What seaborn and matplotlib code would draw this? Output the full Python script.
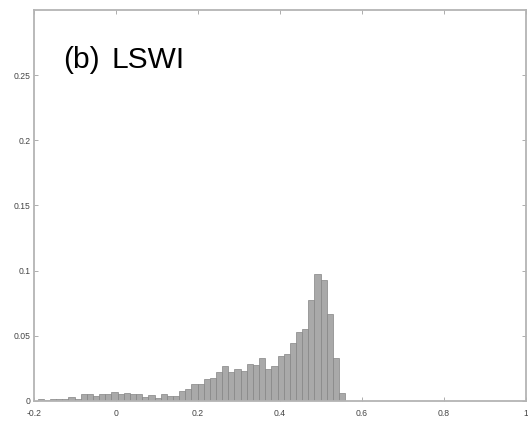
import numpy as np
import pandas as pd
import matplotlib
matplotlib.use("Agg")
import matplotlib.pyplot as plt
import seaborn as sns

# Histogram of LSWI: 50 equal bins between data min and max
bin_start = -0.191
bin_end = 0.559
n_bins = 50
frequencies = [
    0.0013, 0.0008, 0.0013, 0.0013, 0.0013, 0.0030, 0.0013, 0.0053, 0.0053, 0.0038,
    0.0053, 0.0053, 0.0071, 0.0053, 0.0063, 0.0053, 0.0053, 0.0030, 0.0043, 0.0025,
    0.0053, 0.0038, 0.0038, 0.0078, 0.0094, 0.0134, 0.0128, 0.0172, 0.0178, 0.0219,
    0.0268, 0.0225, 0.0249, 0.0232, 0.0281, 0.0273, 0.0330, 0.0248, 0.0266, 0.0345,
    0.0357, 0.0444, 0.0531, 0.0549, 0.0773, 0.0978, 0.0932, 0.0670, 0.0329, 0.0064,
]
x_ticks = [-0.2, 0, 0.2, 0.4, 0.6, 0.8, 1]
x_tick_labels = ["-0.2", "0", "0.2", "0.4", "0.6", "0.8", "1"]
y_ticks = [0, 0.05, 0.1, 0.15, 0.2, 0.25]
y_tick_labels = ["0", "0.05", "0.1", "0.15", "0.2", "0.25"]
title_prefix = "(b)"
title_name = "LSWI"

edges = np.linspace(bin_start, bin_end, n_bins + 1)
centers = (edges[:-1] + edges[1:]) / 2
df = pd.DataFrame({"lswi": centers, "freq": frequencies})

sns.set_style("white")
plt.rcParams['font.family'] = ['Liberation Sans', 'DejaVu Sans']

fig = plt.figure(figsize=(5.28, 4.22), dpi=100)
ax = fig.add_axes([34 / 528, 21 / 422, (526 - 34) / 528, (401 - 10) / 422])

sns.histplot(data=df, x="lswi", weights="freq", bins=n_bins,
             binrange=(bin_start, bin_end), stat="count",
             color="#a9a9a9", edgecolor="#858585", linewidth=0.5, alpha=1.0, ax=ax)

ax.set_xlim(-0.2, 1.0)
ax.set_ylim(0, 0.3)
ax.set_xticks(x_ticks)
ax.set_xticklabels(x_tick_labels)
ax.set_yticks(y_ticks)
ax.set_yticklabels(y_tick_labels)
ax.set_xlabel("")
ax.set_ylabel("")

ax.tick_params(direction="in", length=3, width=0.6, color="#a0a0a0",
               labelsize=6.2, labelcolor="#444444", top=True, right=True,
               bottom=True, left=True)
ax.tick_params(axis="x", pad=6)
ax.tick_params(axis="y", pad=2.5)
for s in ax.spines.values():
    s.set_visible(True)
    s.set_color("#b4b4b4")
    s.set_linewidth(1.3)

ax.text(0.060, 0.851, title_prefix, transform=ax.transAxes, fontsize=21.5,
        color="black", ha="left", va="baseline")
ax.text(0.157, 0.851, title_name, transform=ax.transAxes, fontsize=21.5,
        color="black", ha="left", va="baseline")

fig.savefig("out.png", dpi=100)
